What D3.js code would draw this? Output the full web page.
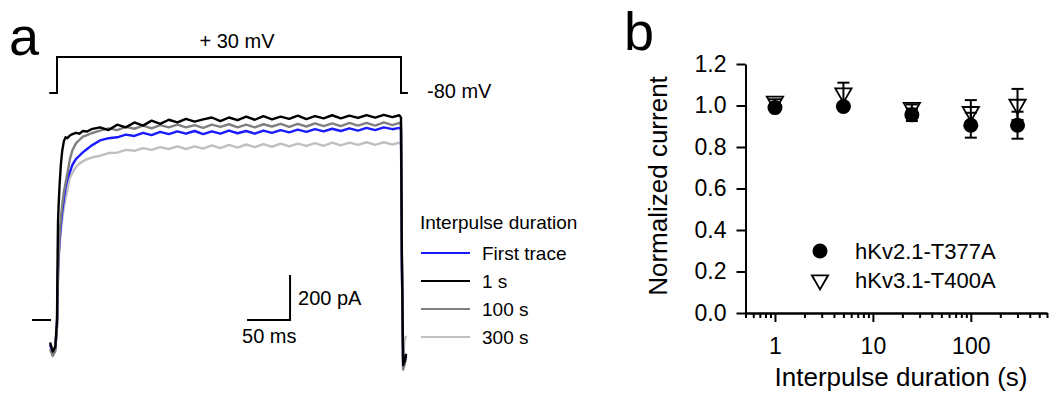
<!DOCTYPE html>
<html>
<head>
<meta charset="utf-8">
<script src="https://cdn.jsdelivr.net/npm/d3@7"></script>
<style>
  body { margin: 0; background: #fff; }
  svg { display: block; font-family: "Liberation Sans", Arial, sans-serif; }
</style>
</head>
<body>
<svg id="chart" width="1049" height="398"></svg>
<script>
// ---- panel a: voltage protocol ----
const protocolTime = [-9, 0, 0, 400, 400, 408];
const protocolVolt = [-80, -80, 30, 30, -80, -80];

// ---- panel a: current traces (ms, pA) ----
const traceTime = [-8, -5, -2, 0, 0.6, 1.2, 2, 3, 4.5, 6, 8, 10, 12, 15, 18, 22, 26, 30, 35, 40,
  50, 60, 70, 80, 90, 100, 110, 120, 130, 140, 150, 160, 170, 180, 190, 200, 210, 220, 230, 240,
  250, 260, 270, 280, 290, 300, 310, 320, 330, 340, 350, 360, 370, 380, 390,
  398, 400, 401, 402.5, 404, 406];

const traceFirst = [-110, -150, -130, -20, 100, 222, 290, 350, 420, 480, 540, 590, 625, 658, 690, 715, 730, 745, 760, 775,
  798, 808, 812, 824, 818, 832, 822, 836, 826, 838, 828, 840, 826, 838, 828, 842, 830, 840, 828, 842,
  832, 844, 834, 846, 836, 848, 838, 850, 840, 852, 842, 854, 844, 856, 848,
  854, 848, 250, -210, -190, -160];

const trace1s = [-100, -140, -120, 0, 250, 440, 520, 600, 690, 750, 795, 812, 808, 820, 826, 832, 828, 840, 838, 848,
  856, 844, 868, 856, 878, 864, 886, 872, 890, 878, 894, 882, 892, 900, 884, 900, 888, 904, 890, 906,
  892, 904, 894, 908, 893, 906, 896, 910, 896, 908, 898, 911, 899, 912, 902,
  910, 900, 300, -200, -185, -150];

const trace100s = [-130, -160, -140, -30, 120, 220, 300, 370, 450, 510, 570, 610, 650, 715, 755, 785, 800, 815, 822, 830,
  842, 852, 844, 858, 850, 864, 852, 866, 856, 868, 856, 866, 854, 868, 858, 870, 856, 868, 856, 870,
  860, 872, 858, 872, 860, 874, 862, 874, 862, 876, 864, 876, 864, 878, 866,
  876, 868, 280, -220, -200, -170];

const trace300s = [-100, -140, -110, -30, 80, 180, 260, 330, 400, 450, 500, 540, 575, 631, 655, 680, 695, 705, 715, 722,
  730, 742, 744, 756, 752, 764, 756, 768, 760, 772, 760, 772, 762, 776, 764, 778, 766, 780, 768, 782,
  770, 784, 772, 784, 774, 786, 774, 788, 776, 788, 778, 790, 778, 790, 780,
  788, 780, 260, -180, -90, -70];

const traceNames = ['First trace', '1 s', '100 s', '300 s'];

// ---- panel b: normalized current ----
const durations = [1, 5, 25, 100, 300];
const kv21Mean = [0.99, 0.995, 0.955, 0.905, 0.905];
const kv21Err = [0.01, 0.01, 0.03, 0.06, 0.065];
const kv31Mean = [1.02, 1.06, 0.99, 0.97, 1.005];
const kv31Err = [0.01, 0.05, 0.015, 0.056, 0.075];
const yTicks = [0, 0.2, 0.4, 0.6, 0.8, 1.0, 1.2];
const xMajorTicks = [1, 10, 100];

const svg = d3.select('#chart');
const font = '"Liberation Sans", Arial, sans-serif';

// ================= panel a =================
const tx = d3.scaleLinear().domain([0, 400]).range([57, 401]);
const iy = d3.scaleLinear().domain([0, 1000]).range([320, 95]);
const vy = d3.scaleLinear().domain([-80, 30]).range([93, 57]);

svg.append('text').attr('x', 9).attr('y', 55)
  .style('font-size', '54px').text('a');

// protocol
const protocol = protocolTime.map((t, i) => [t, protocolVolt[i]]);
svg.append('path')
  .attr('d', d3.line().x(d => tx(d[0])).y(d => vy(d[1]))(protocol))
  .attr('fill', 'none').attr('stroke', '#000').attr('stroke-width', 2);

svg.append('text').attr('x', 237).attr('y', 48).attr('text-anchor', 'middle')
  .style('font-size', '20px').text('+ 30 mV');
svg.append('text').attr('x', 427).attr('y', 98)
  .style('font-size', '20px').text('-80 mV');

// zero-current marker
svg.append('line')
  .attr('x1', tx(-29)).attr('x2', tx(-7))
  .attr('y1', iy(0)).attr('y2', iy(0))
  .attr('stroke', '#000').attr('stroke-width', 2);

// traces (drawn bottom to top)
const traces = [
  { name: traceNames[3], values: trace300s, color: '#c0c0c0' },
  { name: traceNames[0], values: traceFirst, color: '#1a1aff' },
  { name: traceNames[2], values: trace100s, color: '#808080' },
  { name: traceNames[1], values: trace1s, color: '#000000' },
];
const traceLine = d3.line().x(d => tx(d[0])).y(d => iy(d[1]));
svg.append('g').selectAll('path')
  .data(traces)
  .enter().append('path')
  .attr('d', d => traceLine(traceTime.map((t, i) => [t, d.values[i]])))
  .attr('fill', 'none')
  .attr('stroke', d => d.color)
  .attr('stroke-width', 2.4)
  .attr('stroke-linejoin', 'round');

// scale bar: 50 ms / 200 pA
const sbT = 271;
svg.append('path')
  .attr('d', d3.line()([[tx(sbT - 50), iy(0)], [tx(sbT), iy(0)], [tx(sbT), iy(200)]]))
  .attr('fill', 'none').attr('stroke', '#000').attr('stroke-width', 2);
svg.append('text').attr('x', tx(sbT) + 8).attr('y', 305)
  .style('font-size', '20px').text('200 pA');
svg.append('text').attr('x', tx(sbT - 50) - 5).attr('y', 343)
  .style('font-size', '20px').text('50 ms');

// legend a
svg.append('text').attr('x', 420).attr('y', 229)
  .style('font-size', '19px').text('Interpulse duration');
const legendOrder = [
  { name: traceNames[0], color: '#1a1aff' },
  { name: traceNames[1], color: '#000000' },
  { name: traceNames[2], color: '#808080' },
  { name: traceNames[3], color: '#c0c0c0' },
];
const legA = svg.append('g').selectAll('g')
  .data(legendOrder).enter().append('g')
  .attr('transform', (d, i) => `translate(421,${253 + i * 28})`);
legA.append('line').attr('x1', 0).attr('x2', 49).attr('y1', 0).attr('y2', 0)
  .attr('stroke', d => d.color).attr('stroke-width', 2);
legA.append('text').attr('x', 61).attr('y', 7)
  .style('font-size', '19px').text(d => d.name);

// ================= panel b =================
const x = d3.scaleLog().domain([0.5, 600]).range([745.5, 1047]);
const y = d3.scaleLinear().domain([0, 1.2]).range([313, 64]);

svg.append('text').attr('x', 624).attr('y', 50)
  .style('font-size', '54px').text('b');

const yAxis = svg.append('g')
  .attr('transform', `translate(${x(0.5)},0)`)
  .call(d3.axisLeft(y).tickValues(yTicks).tickFormat(d3.format('.1f'))
    .tickSize(9).tickSizeOuter(0).tickPadding(10));
yAxis.attr('font-family', font).attr('font-size', 23);

const xMinor = x.ticks().filter(v => xMajorTicks.indexOf(v) < 0);
svg.append('g')
  .attr('transform', `translate(0,${y(0)})`)
  .call(d3.axisBottom(x).tickValues(xMinor).tickFormat('').tickSize(5).tickSizeOuter(0));
const xAxis = svg.append('g')
  .attr('transform', `translate(0,${y(0)})`)
  .call(d3.axisBottom(x).tickValues(xMajorTicks).tickFormat(d3.format('d'))
    .tickSize(9).tickSizeOuter(0).tickPadding(16));
xAxis.attr('font-family', font).attr('font-size', 23);

svg.selectAll('.domain, .tick line').attr('stroke-width', 2);

svg.append('text')
  .attr('transform', 'translate(667,186) rotate(-90)')
  .attr('text-anchor', 'middle')
  .style('font-size', '26px').text('Normalized current');
svg.append('text').attr('x', 901).attr('y', 386).attr('text-anchor', 'middle')
  .style('font-size', '26px').text('Interpulse duration (s)');

const kv21 = durations.map((d, i) => ({ d, m: kv21Mean[i], e: kv21Err[i] }));
const kv31 = durations.map((d, i) => ({ d, m: kv31Mean[i], e: kv31Err[i] }));

function errorBars(data) {
  const g = svg.append('g').attr('stroke', '#000').attr('stroke-width', 2);
  data.forEach(p => {
    g.append('line').attr('x1', x(p.d)).attr('x2', x(p.d))
      .attr('y1', y(p.m - p.e)).attr('y2', y(p.m + p.e));
    [p.m - p.e, p.m + p.e].forEach(v => {
      g.append('line').attr('x1', x(p.d) - 6).attr('x2', x(p.d) + 6)
        .attr('y1', y(v)).attr('y2', y(v));
    });
  });
}
errorBars(kv21);
errorBars(kv31);

svg.append('g').selectAll('circle')
  .data(kv21).enter().append('circle')
  .attr('cx', d => x(d.d)).attr('cy', d => y(d.m)).attr('r', 7.5)
  .attr('fill', '#000');

const tri = d3.symbol().type(d3.symbolTriangle).size(115);
svg.append('g').selectAll('path')
  .data(kv31).enter().append('path')
  .attr('d', tri)
  .attr('transform', d => `translate(${x(d.d)},${y(d.m)}) rotate(180)`)
  .attr('fill', 'none').attr('stroke', '#000').attr('stroke-width', 1.8);

// legend b
svg.append('circle').attr('cx', 820).attr('cy', 251).attr('r', 7.5).attr('fill', '#000');
svg.append('path').attr('d', tri)
  .attr('transform', 'translate(820,280) rotate(180)')
  .attr('fill', 'none').attr('stroke', '#000').attr('stroke-width', 1.8);
svg.append('text').attr('x', 855).attr('y', 259)
  .style('font-size', '22px').text('hKv2.1-T377A');
svg.append('text').attr('x', 855).attr('y', 288)
  .style('font-size', '22px').text('hKv3.1-T400A');
</script>
</body>
</html>
